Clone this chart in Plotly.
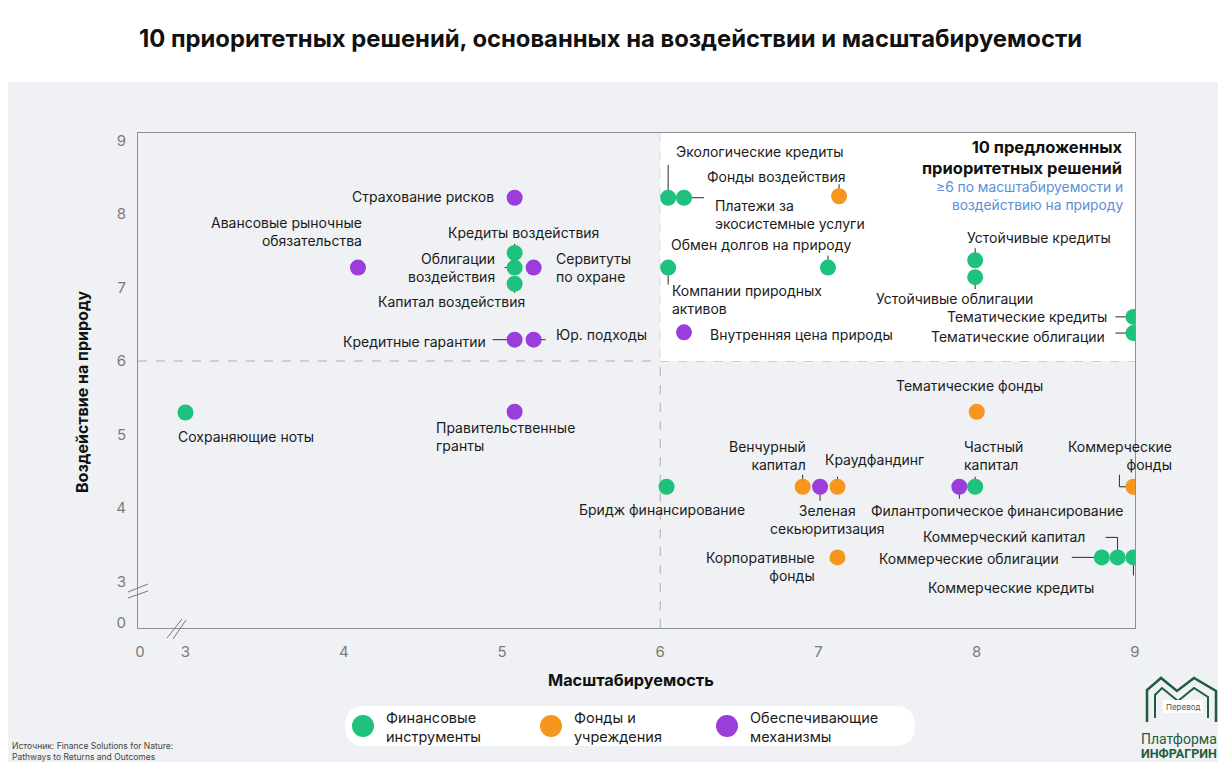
import plotly.graph_objects as go

# Финансовые инструменты
fin_names = [
    "Сохраняющие ноты", "Кредиты воздействия", "Облигации\nвоздействия",
    "Капитал воздействия", "Экологические кредиты", "Платежи за\nэкосистемные услуги",
    "Компании природных\nактивов", "Обмен долгов на природу", "Устойчивые кредиты",
    "Устойчивые облигации", "Тематические кредиты", "Тематические облигации",
    "Бридж финансирование", "Частный\nкапитал", "Коммерческие облигации",
    "Коммерческий капитал", "Коммерческие кредиты",
]
fin_x = [3.0, 5.08, 5.08, 5.08, 6.05, 6.15, 6.05, 7.06, 7.99, 7.99, 8.99, 8.99,
         6.04, 7.99, 8.79, 8.89, 8.99]
fin_y = [5.3, 7.47, 7.27, 7.05, 8.22, 8.22, 7.27, 7.27, 7.37, 7.14, 6.6, 6.38,
         4.29, 4.29, 3.33, 3.33, 3.33]

# Фонды и учреждения
fund_names = ["Фонды воздействия", "Тематические фонды", "Венчурный\nкапитал",
              "Краудфандинг", "Коммерческие\nфонды", "Корпоративные\nфонды"]
fund_x = [7.13, 8.0, 6.9, 7.12, 8.99, 7.12]
fund_y = [8.24, 5.31, 4.29, 4.29, 4.29, 3.33]

# Обеспечивающие механизмы
mech_names = ["Страхование рисков", "Авансовые рыночные\nобязательства", "Сервитуты\nпо охране",
              "Кредитные гарантии", "Юр. подходы", "Внутренняя цена природы",
              "Правительственные\nгранты", "Зеленая\nсекьюритизация",
              "Филантропическое финансирование"]
mech_x = [5.08, 4.09, 5.2, 5.08, 5.2, 6.15, 5.08, 7.01, 7.89]
mech_y = [8.22, 7.27, 7.27, 6.29, 6.29, 6.39, 5.31, 4.29, 4.29]

x_tickvals = [2.713, 3, 4, 5, 6, 7, 8, 9]
x_ticktext = ["0", "3", "4", "5", "6", "7", "8", "9"]
y_tickvals = [2.44, 3, 4, 5, 6, 7, 8, 9]
y_ticktext = ["0", "3", "4", "5", "6", "7", "8", "9"]

groups = [
    ("Финансовые\nинструменты", fin_names, fin_x, fin_y, "#1fc27c"),
    ("Фонды и\nучреждения", fund_names, fund_x, fund_y, "#f7961f"),
    ("Обеспечивающие\nмеханизмы", mech_names, mech_x, mech_y, "#9b3ddb"),
]

# label placement: anchor, dx, dy (screen px from the dot, dy down)
label_pos = {
    "Сохраняющие ноты": ("left", -9, 24),
    "Кредиты воздействия": ("center", 9, -20),
    "Облигации\nвоздействия": ("right", -18, 0),
    "Капитал воздействия": ("center", -63, 18),
    "Экологические кредиты": ("left", 6, -46),
    "Платежи за\nэкосистемные услуги": ("left", 29, 17),
    "Компании природных\nактивов": ("left", 2, 32),
    "Обмен долгов на природу": ("right", 25, -23),
    "Устойчивые кредиты": ("left", -10, -23),
    "Устойчивые облигации": ("right", 60, 21),
    "Тематические кредиты": ("right", -24, 0),
    "Тематические облигации": ("right", -26, 3),
    "Бридж финансирование": ("center", -5, 23),
    "Частный\nкапитал": ("left", -13, -31),
    "Коммерческие облигации": ("right", -41, 1),
    "Коммерческий капитал": ("right", -31, -21),
    "Коммерческие кредиты": ("right", -37, 30),
    "Фонды воздействия": ("right", 8, -20),
    "Тематические фонды": ("center", -7, -26),
    "Венчурный\nкапитал": ("right", 5, -31),
    "Краудфандинг": ("left", -14, -27),
    "Коммерческие\nфонды": ("right", 41, -31),
    "Корпоративные\nфонды": ("right", -20, 9),
    "Страхование рисков": ("right", -19, -1),
    "Авансовые рыночные\nобязательства": ("right", 6, -36),
    "Сервитуты\nпо охране": ("left", 20, 0),
    "Кредитные гарантии": ("right", -27, 2),
    "Юр. подходы": ("left", 20, -5),
    "Внутренняя цена природы": ("left", 24, 2),
    "Правительственные\nгранты": ("left", -81, 25),
    "Зеленая\nсекьюритизация": ("center", 7, 33),
    "Филантропическое финансирование": ("center", 38, 24),
}

# leader lines: list of segments (x0, y0, x1, y1) in px from the dot, y down
leaders = {
    "Экологические кредиты": [(0, -33, 0, 0)],
    "Платежи за\nэкосистемные услуги": [(0, 0, 20, 0)],
    "Фонды воздействия": [(0, -12, 0, 0)],
    "Компании природных\nактивов": [(0, 0, 0, 17)],
    "Обмен долгов на природу": [(0, -12, 0, 0)],
    "Кредиты воздействия": [(0, -9, 0, 0)],
    "Облигации\nвоздействия": [(-10, 0, 0, 0)],
    "Капитал воздействия": [(0, 0, 0, 9)],
    "Кредитные гарантии": [(-22, 0, 0, 0)],
    "Юр. подходы": [(0, 0, 12, 0)],
    "Устойчивые кредиты": [(0, -12, 0, 0)],
    "Устойчивые облигации": [(0, 0, 0, 12)],
    "Тематические кредиты": [(-18, 0, 0, 0)],
    "Тематические облигации": [(-18, 0, 0, 0)],
    "Венчурный\nкапитал": [(0, -12, 0, 0)],
    "Зеленая\nсекьюритизация": [(0, 0, 0, 14)],
    "Краудфандинг": [(0, -10, 0, 0)],
    "Филантропическое финансирование": [(0, 0, 0, 12)],
    "Частный\nкапитал": [(0, -10, 0, 0)],
    "Коммерческие\nфонды": [(-14, -12, -14, 0), (-14, 0, 0, 0)],
    "Коммерческий капитал": [(-12, -20, 0, -20), (0, -20, 0, 0)],
    "Коммерческие облигации": [(-30, 0, 0, 0)],
    "Коммерческие кредиты": [(0, 0, 0, 18)],
}

FONT = "Inter, 'Noto Sans', sans-serif"
LOGO_FONT = "'Roboto', sans-serif"
PANEL = "#eff1f4"
GREEN_DARK = "#1f5d3e"
OFF = 8  # page body margin, the figure starts 8px in
FIG_W, FIG_H = 1226 - OFF, 772 - 2 * OFF  # keep the page from scrolling
PLOT_L, PLOT_R, PLOT_T, PLOT_B = 138, 1135, 133, 628


def px(x):
    return (x - PLOT_L) / (PLOT_R - PLOT_L)


def py(y):
    return (PLOT_B - y) / (PLOT_B - PLOT_T)


def note(x, y, text, size, color="#1b1b1b", xa="center", ya="middle", **kw):
    return dict(x=px(x), y=py(y), xref="paper", yref="paper", text=text, showarrow=False,
                xanchor=xa, yanchor=ya, align=xa if xa != "center" else "center",
                font=dict(family=kw.pop("family", FONT), size=size, color=color), **kw)


fig = go.Figure()

shapes = [
    # gray panel
    dict(type="rect", xref="paper", yref="paper", x0=px(7), x1=px(1218), y0=py(762), y1=py(82),
         fillcolor=PANEL, line_width=0, layer="below"),
    # white priority quadrant
    dict(type="rect", xref="x", yref="y", x0=6, x1=9, y0=6, y1=9.1,
         fillcolor="white", line_width=0, layer="below"),
    # blue note box
    dict(type="rect", xref="paper", yref="paper", x0=px(850), x1=px(1135), y0=py(216), y1=py(133),
         fillcolor="#d3e1f8", line_width=0, layer="below"),
    dict(type="line", xref="x", yref="paper", x0=6, x1=6, y0=0, y1=1,
         line=dict(color="#a9aeb5", width=1, dash="dash"), layer="below"),
    dict(type="line", xref="paper", yref="y", x0=0, x1=1, y0=6, y1=6,
         line=dict(color="#a9aeb5", width=1, dash="dash"), layer="below"),
]

# axis break marks
for x0, y0, x1, y1 in [(128, 592, 148, 584), (128, 598, 148, 591),
                       (167, 638, 182, 619), (173, 639, 186, 620)]:
    shapes.append(dict(type="line", xref="paper", yref="paper", x0=px(x0), y0=py(y0),
                       x1=px(x1), y1=py(y1), line=dict(color="#777", width=1)))

annotations = []

for gname, names, xs, ys, color in groups:
    fig.add_trace(go.Scatter(
        x=xs, y=ys, mode="markers", name=gname.replace("\n", " "),
        text=[n.replace("\n", " ") for n in names], hoverinfo="text",
        marker=dict(size=16, color=color, line_width=0),
        showlegend=False,
    ))
    for n, x, y in zip(names, xs, ys):
        anchor, dx, dy = label_pos[n]
        annotations.append(dict(
            x=x, y=y, xref="x", yref="y", text=n.replace("\n", "<br>"),
            showarrow=False, xanchor=anchor, yanchor="middle", align=anchor,
            xshift=dx, yshift=-dy, font=dict(family=FONT, size=14, color="#1b1b1b"),
        ))
        for x0, y0, x1, y1 in leaders.get(n, []):
            shapes.append(dict(
                type="line", xref="x", yref="y", xsizemode="pixel", ysizemode="pixel",
                xanchor=x, yanchor=y, x0=x0, x1=x1, y0=-y0, y1=-y1,
                line=dict(color="#2b2b2b", width=1), layer="below",
            ))

# legend (drawn by hand: rounded pill with big dots)
lx0, lx1, ly0, ly1, r = 345, 915, 706, 746, 20
pill = (f"M {px(lx0 + r)} {py(ly0)} L {px(lx1 - r)} {py(ly0)} "
        f"Q {px(lx1)} {py(ly0)} {px(lx1)} {py(ly0 + r)} "
        f"Q {px(lx1)} {py(ly1)} {px(lx1 - r)} {py(ly1)} "
        f"L {px(lx0 + r)} {py(ly1)} "
        f"Q {px(lx0)} {py(ly1)} {px(lx0)} {py(ly0 + r)} "
        f"Q {px(lx0)} {py(ly0)} {px(lx0 + r)} {py(ly0)} Z")
shapes.append(dict(type="path", xref="paper", yref="paper", path=pill,
                   fillcolor="white", line_width=0, layer="below"))
for (gname, _, _, _, color), cx in zip(groups, [363, 551, 727]):
    shapes.append(dict(type="circle", xref="paper", yref="paper", xsizemode="pixel",
                       ysizemode="pixel", xanchor=px(cx), yanchor=py(726),
                       x0=-11, x1=11, y0=-11, y1=11, fillcolor=color, line_width=0))
    annotations.append(note(cx + 21, 727, gname.replace("\n", "<br>"), 14.5, xa="left"))

# logo
logo_outer = [(1147, 722), (1147, 690), (1161, 678), (1177, 691), (1194, 678),
              (1216, 691), (1216, 722)]
logo_inner = [(1155, 718), (1155, 695), (1162, 688), (1178, 701), (1194, 688),
              (1208, 697), (1208, 718)]


def path_of(pts):
    return "M " + " L ".join(f"{px(a)} {py(b)}" for a, b in pts)


shapes.append(dict(type="path", xref="paper", yref="paper", path=path_of(logo_outer),
                   line=dict(color=GREEN_DARK, width=2.5)))
shapes.append(dict(type="path", xref="paper", yref="paper", path=path_of(logo_inner),
                   line=dict(color=GREEN_DARK, width=2)))
shapes.append(dict(type="rect", xref="paper", yref="paper", x0=px(1163), x1=px(1203),
                   y0=py(713), y1=py(700), fillcolor="white", line_width=0))
annotations += [
    note(1183, 706.5, "Перевод", 8, color="#555"),
    note(1179, 739, "Платформа", 14, color=GREEN_DARK, family=LOGO_FONT),
    note(1179, 754, "<b>ИНФРАГРИН</b>", 12.5, color=GREEN_DARK, family=LOGO_FONT),
]

# texts
annotations += [
    note(610, 38, "<b>10 приоритетных решений, основанных на воздействии и масштабируемости</b>",
         23.8, color="#111"),
    note(1125, 157.5, "<b>10 предложенных<br>приоритетных решений</b>", 16.5,
         color="#111", xa="right"),
    note(1125, 196, "≥6 по масштабируемости и<br>воздействию на природу", 13.8,
         color="#5b8fd9", xa="right"),
    note(631, 680, "<b>Масштабируемость</b>", 16.3, color="#111"),
    note(82, 392, "<b>Воздействие на природу</b>", 16, color="#111", textangle=-90),
    note(10, 751, "Источник: Finance Solutions for Nature:<br>Pathways to Returns and Outcomes",
         8.5, color="#444", xa="left"),
]

axis_common = dict(showgrid=False, zeroline=False, showline=True, mirror=True,
                   linecolor="#8c8f94", linewidth=1, ticks="",
                   tickfont=dict(family=FONT, size=15, color="#7b7b7b"))
fig.update_xaxes(range=[2.70, 9.0], tickvals=x_tickvals, ticktext=x_ticktext,
                 ticklabelstandoff=10, **axis_common)
fig.update_yaxes(range=[2.37, 9.10], tickvals=y_tickvals, ticktext=y_ticktext,
                 ticklabelstandoff=8, **axis_common)

fig.update_layout(
    width=FIG_W, height=FIG_H,
    margin=dict(l=PLOT_L - OFF, r=FIG_W + OFF - PLOT_R, t=PLOT_T - OFF,
                b=FIG_H + OFF - PLOT_B),
    paper_bgcolor="white", plot_bgcolor="rgba(0,0,0,0)",
    shapes=shapes, annotations=annotations,
    font=dict(family=FONT), showlegend=False,
)

fig.write_html("out.html")
